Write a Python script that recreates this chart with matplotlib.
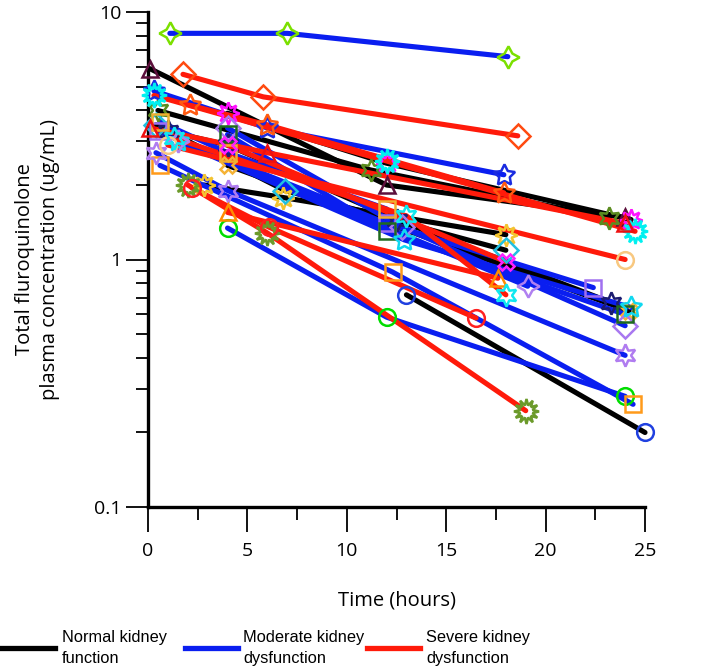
import matplotlib
matplotlib.use("Agg")
import matplotlib.pyplot as plt
from matplotlib.lines import Line2D
from matplotlib.ticker import LogLocator, NullFormatter, FixedLocator, FixedFormatter

# ---------------- data ----------------
group_names = ["Normal kidney\nfunction", "Moderate kidney\ndysfunction", "Severe kidney\ndysfunction"]
group_colors = ["#000000", "#0a1ef0", "#ff1a0a"]

# Normal kidney function (black)
normal_times = [[0.1, 12, 24], [1.0, 4.0, 12.5, 23.3], [13, 25], [2.8, 6.8, 18],
                [0.5, 11.2, 23.2], [4, 24.2], [0.4, 6.9, 18], [4, 12, 24.3]]
normal_conc = [[5.9, 2.0, 1.48], [3.3, 2.9, 1.45, 0.67], [0.72, 0.2], [2.0, 1.78, 1.26],
               [4.0, 2.3, 1.47], [2.4, 0.62], [3.5, 1.9, 1.09], [3.9, 2.45, 1.45]]
normal_markers = ["^", (6, 1, 0), "o", (8, 1, 0), (6, 1, 0), "X", "D", (8, 1, 0)]
normal_mcolors = ["#5c0f3c", "#1c1c70", "#2040e0", "#f4c430", "#5b8c1f", "#f5b335", "#20c0e0", "#ff10ff"]

# Moderate kidney dysfunction (blue)
moderate_times = [[1.1, 7.0, 18.1], [0.3, 6.0, 17.9], [4, 12, 24], [0.6, 12.3, 24.4],
                  [0.4, 4.0, 24], [0.5, 12, 22.4], [4, 12.8, 24], [4, 12, 24],
                  [1.5, 12.9, 24.3], [1.5, 19.1], [0.6, 4, 12]]
moderate_conc = [[8.2, 8.2, 6.6], [4.8, 3.4, 2.2], [1.34, 0.585, 0.28], [2.4, 0.89, 0.26],
                 [2.7, 1.9, 0.41], [3.3, 1.4, 0.77], [3.4, 1.35, 0.54], [3.2, 1.3, 0.6],
                 [3.0, 1.2, 0.64], [3.0, 0.78], [3.6, 2.7, 1.6]]
moderate_markers = [(4, 1, 0), (5, 1, 0), "o", "s", (6, 1, 0), "s", "D", "s",
                    (5, 1, 0), (4, 1, 0), "s"]
moderate_mcolors = ["#7be000", "#1a2be0", "#00dd00", "#ff9a1a", "#b07cf0", "#a070f0", "#a878f0", "#1e6a1e",
                    "#10d8f0", "#b080f0", "#f0b030"]

# Severe kidney dysfunction (red)
severe_times = [[1.76, 5.8, 18.6], [2.1, 6.0, 17.9], [1.0, 24], [2, 6, 19],
                [2.2, 6.1, 16.5], [4, 17.6], [0.3, 12, 24.5], [4, 18],
                [1.3, 13, 18], [0.1, 6, 24]]
severe_conc = [[5.6, 4.54, 3.16], [4.2, 3.5, 1.86], [2.9, 1.0], [2.0, 1.28, 0.245],
               [1.95, 1.35, 0.58], [1.55, 0.84], [4.6, 2.5, 1.3], [2.9, 0.98],
               [3.1, 1.5, 0.72], [3.4, 2.7, 1.4]]
severe_markers = ["D", (5, 1, 0), "o", (12, 1, 0), "o", "^", (12, 1, 0), "X", (6, 1, 0), "^"]
severe_mcolors = ["#ff4a10", "#ff5a10", "#f8c880", "#6b9a2a", "#ff2020", "#ff8c00", "#00f0f0", "#ff20ff",
                  "#10e8f0", "#ee1010"]

x_ticks = [0, 5, 10, 15, 20, 25]
y_ticks = [0.1, 1, 10]
y_ticklabels = ["0.1", "1", "10"]

# ---------------- figure ----------------
W, H = 709, 672
fig = plt.figure(figsize=(W / 100, H / 100), dpi=100)
ax = fig.add_axes([148 / W, 1 - 507 / H, (645 - 148) / W, (507 - 12) / H])

groups = [
    (normal_times, normal_conc, normal_markers, normal_mcolors, group_colors[0]),
    (moderate_times, moderate_conc, moderate_markers, moderate_mcolors, group_colors[1]),
    (severe_times, severe_conc, severe_markers, severe_mcolors, group_colors[2]),
]

for times, concs, markers, mcols, lc in groups:
    for t, c in zip(times, concs):
        ax.plot(t, c, color=lc, lw=3.7, solid_capstyle="round", clip_on=False, zorder=2)

for times, concs, markers, mcols, lc in groups:
    for t, c, m, mc in zip(times, concs, markers, mcols):
        if isinstance(m, tuple):
            ms = 18 if m[0] == 12 else 16
        else:
            ms = 12
        ax.plot(t, c, linestyle="none", marker=m, markersize=ms,
                markerfacecolor="none", markeredgecolor=mc, markeredgewidth=1.8,
                clip_on=False, zorder=3)

ax.set_yscale("log")
ax.set_xlim(0, 25)
ax.set_ylim(0.1, 10)

for s in ["top", "right"]:
    ax.spines[s].set_visible(False)
for s in ["left", "bottom"]:
    ax.spines[s].set_linewidth(2.4)

ax.yaxis.set_major_locator(FixedLocator(y_ticks))
ax.yaxis.set_major_formatter(FixedFormatter(y_ticklabels))
ax.yaxis.set_minor_locator(LogLocator(base=10, subs=range(2, 10)))
ax.yaxis.set_minor_formatter(NullFormatter())
ax.set_xticks(x_ticks)
ax.set_xticks([2.5, 7.5, 12.5, 17.5, 22.5], minor=True)

font = "Open Sans"
ax.tick_params(axis="y", which="major", direction="out", length=16, width=1.3, labelsize=14, pad=3)
ax.tick_params(axis="y", which="minor", direction="out", length=9, width=1.3)
ax.tick_params(axis="x", which="major", direction="out", length=18, width=1.3, labelsize=14, pad=7)
ax.tick_params(axis="x", which="minor", direction="out", length=9, width=1.3)
for lab in ax.get_xticklabels() + ax.get_yticklabels():
    lab.set_fontfamily(font)

ax.set_xlabel("Time (hours)", fontsize=14.5, fontfamily=font, labelpad=22)
ax.set_ylabel("Total fluroquinolone\nplasma concentration (ug/mL)", fontsize=14.5,
              fontfamily=font, labelpad=25, linespacing=1.3)

# legend drawn in figure coordinates
leg_x = [(2, 55, 62), (185, 238, 243), (367, 420, 426)]
for (x0, x1, xt), name, col in zip(leg_x, group_names, group_colors):
    fig.add_artist(Line2D([x0 / W, x1 / W], [1 - 648 / H] * 2, color=col, lw=3.8))
    fig.text(xt / W, 1 - 648 / H, name, fontsize=11.8, fontfamily="Liberation Sans",
             va="center", ha="left", linespacing=1.5)

fig.savefig("out.png", dpi=100)
